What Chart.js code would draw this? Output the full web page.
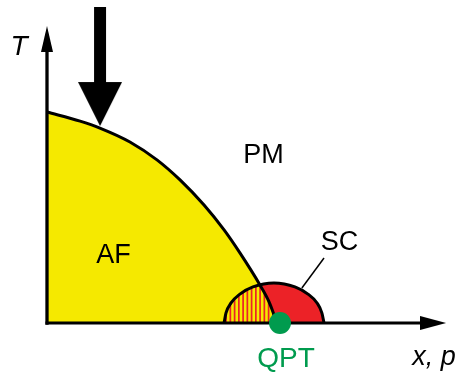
<!DOCTYPE html>
<html><head><meta charset="utf-8">
<script src="https://cdn.jsdelivr.net/npm/chart.js@4.4.1/dist/chart.umd.min.js"></script>
<style>html,body{margin:0;padding:0;background:#fff;}canvas{display:block;}</style>
</head><body>
<canvas id="c" width="457" height="376"></canvas>
<script>
// ---- data (doping x / pressure p on x, temperature T on y; arbitrary units) ----
const afX = [0, 0.142, 0.227, 0.356, 0.472, 0.571, 0.674, 0.760, 0.828, 0.914, 0.953, 0.987];
const afT = [1.000, 0.957, 0.924, 0.858, 0.773, 0.678, 0.559, 0.441, 0.332, 0.180, 0.100, 0];
const scX = [0.760, 0.768, 0.790, 0.828, 0.884, 0.974, 1.064, 1.120, 1.159, 1.180, 1.189];
const scT = [0, 0.047, 0.095, 0.137, 0.171, 0.190, 0.171, 0.137, 0.095, 0.047, 0];
const coexX = [0.760, 0.768, 0.790, 0.828, 0.884, 0.914, 0.953, 0.987];
const coexT = [0, 0.047, 0.095, 0.137, 0.171, 0.180, 0.100, 0];
const qptX = [1.0];
const qptT = [0];
const regionLabels = ['PM', 'AF', 'SC'];
const labelX = [0.929, 0.285, 1.255];
const labelT = [0.758, 0.284, 0.346];
const pointerX = [1.094, 1.189];
const pointerT = [0.166, 0.308];
const xAxisX = [0, 1.657];
const yAxisT = [0, 1.346];
const bigArrowX = [0.2275];
const bigArrowT = [1.2156];
const axisTitleX = 'x, p';
const axisTitleY = 'T';
const qptLabel = 'QPT';

const YELLOW = '#F5E900', RED = '#EC2227', GREEN = '#009B4E', INK = '#000000';
const FONT = '"Liberation Sans", Arial, Helvetica, sans-serif';

const pts = (xs, ys) => xs.map((x, i) => ({x: x, y: ys[i]}));

function mkCanvas(w, h, draw) {
  const c = document.createElement('canvas');
  c.width = w; c.height = h;
  draw(c.getContext('2d'), w, h);
  return c;
}
// hatch pattern: yellow with red vertical stripes
const hatchCanvas = mkCanvas(17, 17, (g, w, h) => {
  g.fillStyle = YELLOW; g.fillRect(0, 0, w, h);
  g.fillStyle = RED;
  for (let k = 0; k < 4; k++) g.fillRect(k * 4.25, 0, 1.7, h);
});
const hatch = document.createElement('canvas').getContext('2d').createPattern(hatchCanvas, 'repeat');

const headRight = mkCanvas(26, 14, (g, w, h) => {
  g.fillStyle = INK; g.beginPath(); g.moveTo(0, 0); g.lineTo(w, h / 2); g.lineTo(0, h); g.closePath(); g.fill();
});
const headUp = mkCanvas(12, 26, (g, w, h) => {
  g.fillStyle = INK; g.beginPath(); g.moveTo(0, h); g.lineTo(w / 2, 0); g.lineTo(w, h); g.closePath(); g.fill();
});
const bigArrow = mkCanvas(44, 119, (g, w, h) => {
  g.fillStyle = INK;
  g.fillRect(16, 0, 12, 76);
  g.beginPath(); g.moveTo(0, 75); g.lineTo(w, 75); g.lineTo(w / 2, h); g.closePath(); g.fill();
});

const labelPlugin = {
  id: 'labels',
  afterDatasetsDraw(chart) {
    const {ctx, scales: {x, y}} = chart;
    ctx.save();
    ctx.textBaseline = 'alphabetic';
    ctx.textAlign = 'center';
    ctx.fillStyle = INK;
    ctx.font = '27px ' + FONT;
    regionLabels.forEach((t, i) => ctx.fillText(t, x.getPixelForValue(labelX[i]), y.getPixelForValue(labelT[i])));
    ctx.font = 'italic 28px ' + FONT;
    ctx.fillText(axisTitleY, x.getPixelForValue(-0.120), y.getPixelForValue(1.270));
    ctx.font = 'italic 27px ' + FONT;
    ctx.fillText(axisTitleX, x.getPixelForValue(1.661), y.getPixelForValue(-0.199));
    ctx.fillStyle = GREEN;
    ctx.font = '28px ' + FONT;
    ctx.fillText(qptLabel, x.getPixelForValue(qptX[0] + 0.026), y.getPixelForValue(-0.2085));
    ctx.restore();
  }
};

new Chart(document.getElementById('c'), {
  type: 'line',
  data: {
    datasets: [
      {label: 'QPT', data: pts(qptX, qptT), order: 0, showLine: false,
       pointRadius: 11, pointBackgroundColor: GREEN, pointBorderWidth: 0},
      {label: 'big arrow', data: pts(bigArrowX, bigArrowT), order: 1, showLine: false,
       pointRadius: 5, pointStyle: bigArrow},
      {label: 'x axis', data: pts(xAxisX, [0, 0]), order: 1, borderColor: INK, borderWidth: 3,
       borderCapStyle: 'square', fill: false, pointRadius: [0, 5], pointStyle: headRight},
      {label: 'T axis', data: pts([0, 0], yAxisT), order: 1, borderColor: INK, borderWidth: 3.3,
       borderCapStyle: 'square', fill: false, pointRadius: [0, 5], pointStyle: headUp},
      {label: 'SC pointer', data: pts(pointerX, pointerT), order: 1, borderColor: INK, borderWidth: 1.5,
       fill: false, pointRadius: 0},
      {label: 'coexistence', data: pts(coexX, coexT), order: 2, borderWidth: 0, borderColor: 'rgba(0,0,0,0)',
       backgroundColor: hatch, fill: 'origin', pointRadius: 0, cubicInterpolationMode: 'monotone'},
      {label: 'SC', data: pts(scX, scT), order: 3, borderColor: INK, borderWidth: 3,
       backgroundColor: RED, fill: 'origin', pointRadius: 0, cubicInterpolationMode: 'monotone'},
      {label: 'AF', data: pts(afX, afT), order: 4, borderColor: INK, borderWidth: 3,
       backgroundColor: YELLOW, fill: 'origin', pointRadius: 0, cubicInterpolationMode: 'monotone'}
    ]
  },
  options: {
    responsive: false,
    animation: false,
    events: [],
    layout: {padding: 0, autoPadding: false},
    scales: {
      x: {type: 'linear', display: false, min: -0.2017, max: 1.7597},
      y: {type: 'linear', display: false, min: -0.2512, max: 1.5308}
    },
    plugins: {
      legend: {display: false},
      tooltip: {enabled: false},
      filler: {drawTime: 'beforeDatasetsDraw'}
    }
  },
  plugins: [labelPlugin]
});
</script>
</body></html>
